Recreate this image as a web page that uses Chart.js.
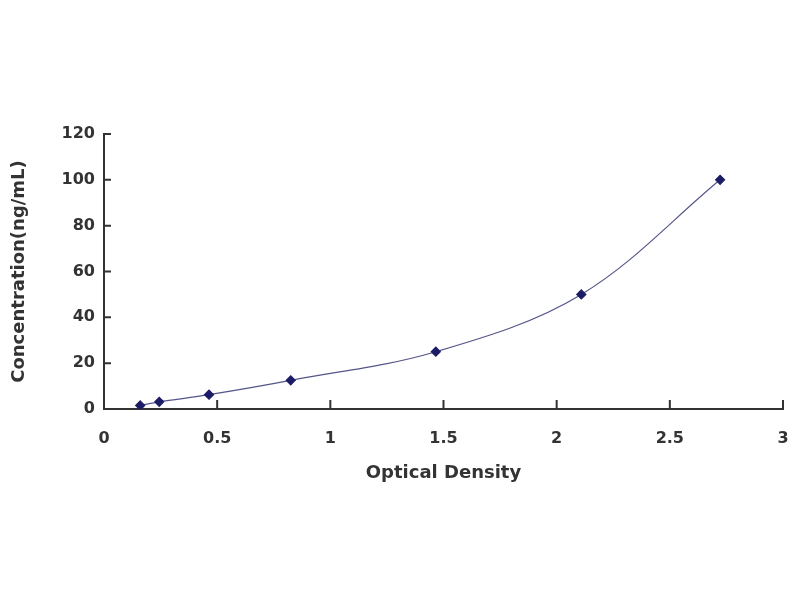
<!DOCTYPE html>
<html>
<head>
<meta charset="utf-8">
<script src="https://cdn.jsdelivr.net/npm/chart.js@4"></script>
<style>
  html, body { margin: 0; padding: 0; background: #fff; }
  #wrap { width: 800px; height: 600px; }
</style>
</head>
<body>
<div id="wrap"><canvas id="curve"></canvas></div>
<script>
// standard curve readings
const opticalDensity = [0.16, 0.244, 0.464, 0.825, 1.466, 2.109, 2.722];
const concentration = [1.56, 3.12, 6.25, 12.5, 25, 50, 100];
const xTicks = [0, 0.5, 1, 1.5, 2, 2.5, 3];
const yTicks = [0, 20, 40, 60, 80, 100, 120];

const points = opticalDensity.map((x, i) => ({ x: x, y: concentration[i] }));

// ticks point into the plot, like the original
const innerTicks = {
  id: "innerTicks",
  afterDraw(chart) {
    const ctx = chart.ctx;
    const xs = chart.scales.x;
    const ys = chart.scales.y;
    ctx.save();
    ctx.strokeStyle = "#333";
    ctx.lineWidth = 2;
    ctx.beginPath();
    xTicks.forEach((v) => {
      const px = xs.getPixelForValue(v);
      ctx.moveTo(px, ys.bottom);
      ctx.lineTo(px, ys.bottom - 9);
    });
    yTicks.forEach((v) => {
      const py = ys.getPixelForValue(v);
      ctx.moveTo(xs.left, py);
      ctx.lineTo(xs.left + 7, py);
    });
    ctx.stroke();
    ctx.restore();
  },
};

const font = { family: "DejaVu Sans", weight: "bold", size: 16 };
const titleFont = { family: "DejaVu Sans", weight: "bold", size: 18 };

new Chart(document.getElementById("curve"), {
  type: "scatter",
  data: {
    datasets: [
      {
        data: points,
        showLine: true,
        tension: 0.35,
        borderColor: "#55558a",
        borderWidth: 1.2,
        pointStyle: "rectRot",
        pointRadius: 4.5,
        pointBackgroundColor: "#1c1c66",
        pointBorderColor: "#1c1c66",
      },
    ],
  },
  options: {
    responsive: true,
    maintainAspectRatio: false,
    animation: false,
    devicePixelRatio: 1,
    layout: { padding: { left: 5, top: 134, right: 17, bottom: 100 } },
    plugins: { legend: { display: false }, tooltip: { enabled: false } },
    scales: {
      x: {
        type: "linear",
        min: 0,
        max: 3,
        afterBuildTicks: (s) => { s.ticks = xTicks.map((v) => ({ value: v })); },
        afterFit: (s) => { s.height = 91; s.paddingRight = 0; s.paddingLeft = 0; },
        grid: { display: true, drawOnChartArea: false, drawTicks: false },
        border: { display: true, color: "#333", width: 2 },
        ticks: { color: "#333", font: font, padding: 20, callback: (v) => String(v) },
        title: { display: true, text: "Optical Density", color: "#333", font: titleFont, padding: { top: 4, bottom: 16 } },
      },
      y: {
        type: "linear",
        min: 0,
        max: 120,
        afterBuildTicks: (s) => { s.ticks = yTicks.map((v) => ({ value: v })); },
        afterFit: (s) => { s.width = 99; s.paddingTop = 0; s.paddingBottom = 0; },
        grid: { display: true, drawOnChartArea: false, drawTicks: false },
        border: { display: true, color: "#333", width: 2 },
        ticks: { color: "#333", font: font, padding: 9 },
        title: { display: true, text: "Concentration(ng/mL)", color: "#333", font: titleFont, padding: { top: 4, bottom: 6 } },
      },
    },
  },
  plugins: [innerTicks],
});
</script>
</body>
</html>
